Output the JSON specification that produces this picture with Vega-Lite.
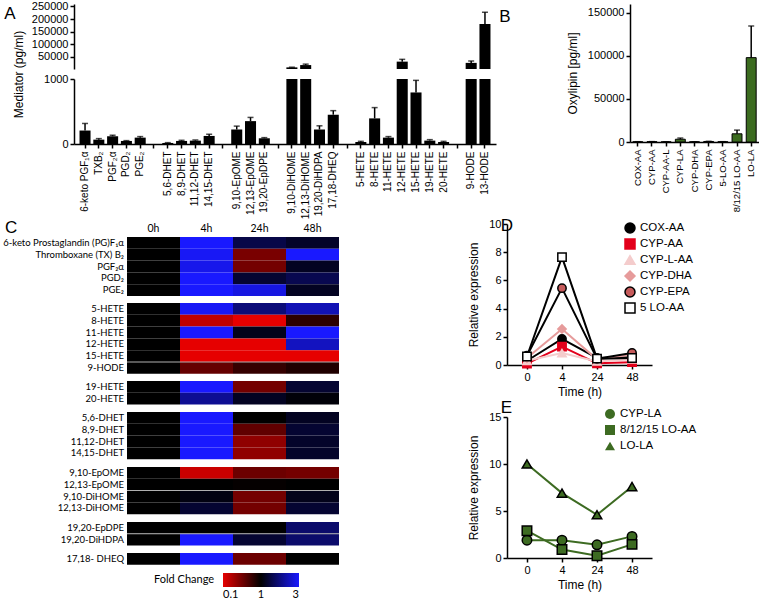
{
  "$schema": "https://vega.github.io/schema/vega-lite/v6.json",
  "padding": {"left": 3, "top": 0, "right": 0, "bottom": 0},
  "background": "white",
  "config": {
    "view": {"stroke": null},
    "font": "Liberation Sans",
    "axis": {"domainColor": "black", "tickColor": "black", "labelColor": "black", "titleColor": "black", "grid": false, "domainWidth": 1.5, "tickWidth": 1.5, "tickSize": 4, "labelFont": "Liberation Sans", "titleFont": "Liberation Sans", "labelFontSize": 11, "titleFontSize": 12, "titleFontWeight": "normal"},
    "legend": {"labelFont": "Liberation Sans", "titleFont": "Liberation Sans", "labelColor": "black", "titleColor": "black"},
    "title": {"font": "Liberation Sans", "fontSize": 17, "fontWeight": "normal", "anchor": "start", "frame": "bounds", "color": "black"}
  },
  "datasets": {
    "mediators": [
      {"m": "6-keto PGF₁α", "v": 207, "hi": 316},
      {"m": "TXB₂", "v": 67, "hi": 83},
      {"m": "PGF₂α", "v": 119, "hi": 135},
      {"m": "PGD₂", "v": 47, "hi": 52},
      {"m": "PGE₂", "v": 98, "hi": 114},
      {"m": "5,6-DHET", "v": 16, "hi": 21},
      {"m": "8,9-DHET", "v": 47, "hi": 57},
      {"m": "11,12-DHET", "v": 52, "hi": 62},
      {"m": "14,15-DHET", "v": 124, "hi": 150},
      {"m": "9,10-EpOME", "v": 223, "hi": 275},
      {"m": "12,13-EpOME", "v": 352, "hi": 409},
      {"m": "19,20-EpDPE", "v": 88, "hi": 98},
      {"m": "9,10-DiHOME", "v": 6500, "hi": 7200},
      {"m": "12,13-DiHOME", "v": 15700, "hi": 19500},
      {"m": "19,20-DiHDPA", "v": 223, "hi": 280},
      {"m": "17,18-DHEQ", "v": 451, "hi": 513},
      {"m": "5-HETE", "v": 31, "hi": 41},
      {"m": "8-HETE", "v": 394, "hi": 560},
      {"m": "11-HETE", "v": 98, "hi": 114},
      {"m": "12-HETE", "v": 29500, "hi": 38600},
      {"m": "15-HETE", "v": 793, "hi": 979},
      {"m": "19-HETE", "v": 52, "hi": 67},
      {"m": "20-HETE", "v": 31, "hi": 41},
      {"m": "9-HODE", "v": 24500, "hi": 32000},
      {"m": "13-HODE", "v": 180000, "hi": 227000}
    ],
    "oxylipin": [
      {"s": "COX-AA", "v": 250, "hi": 350},
      {"s": "CYP-AA", "v": 350, "hi": 450},
      {"s": "CYP-AA-L", "v": 150, "hi": 200},
      {"s": "CYP-LA", "v": 3200, "hi": 4600},
      {"s": "CYP-DHA", "v": 200, "hi": 260},
      {"s": "CYP-EPA", "v": 600, "hi": 800},
      {"s": "5-LO-AA", "v": 300, "hi": 380},
      {"s": "8/12/15 LO-AA", "v": 9500, "hi": 13800},
      {"s": "LO-LA", "v": 97800, "hi": 134500}
    ],
    "times": [{"t": "0h"}, {"t": "4h"}, {"t": "24h"}, {"t": "48h"}],
    "heat": [
      {"g": 1, "m": "6-keto Prostaglandin (PG)F₁α", "t": "0h", "fc": 1}, {"g": 1, "m": "6-keto Prostaglandin (PG)F₁α", "t": "4h", "fc": 3}, {"g": 1, "m": "6-keto Prostaglandin (PG)F₁α", "t": "24h", "fc": 1.45}, {"g": 1, "m": "6-keto Prostaglandin (PG)F₁α", "t": "48h", "fc": 1.25},
      {"g": 1, "m": "Thromboxane (TX) B₂", "t": "0h", "fc": 1}, {"g": 1, "m": "Thromboxane (TX) B₂", "t": "4h", "fc": 2.9}, {"g": 1, "m": "Thromboxane (TX) B₂", "t": "24h", "fc": 0.4}, {"g": 1, "m": "Thromboxane (TX) B₂", "t": "48h", "fc": 3},
      {"g": 1, "m": "PGF₂α", "t": "0h", "fc": 1}, {"g": 1, "m": "PGF₂α", "t": "4h", "fc": 2.8}, {"g": 1, "m": "PGF₂α", "t": "24h", "fc": 0.42}, {"g": 1, "m": "PGF₂α", "t": "48h", "fc": 1.2},
      {"g": 1, "m": "PGD₂", "t": "0h", "fc": 1}, {"g": 1, "m": "PGD₂", "t": "4h", "fc": 3}, {"g": 1, "m": "PGD₂", "t": "24h", "fc": 1.3}, {"g": 1, "m": "PGD₂", "t": "48h", "fc": 1.5},
      {"g": 1, "m": "PGE₂", "t": "0h", "fc": 1}, {"g": 1, "m": "PGE₂", "t": "4h", "fc": 3}, {"g": 1, "m": "PGE₂", "t": "24h", "fc": 2.7}, {"g": 1, "m": "PGE₂", "t": "48h", "fc": 1.2},
      {"g": 2, "m": "5-HETE", "t": "0h", "fc": 1}, {"g": 2, "m": "5-HETE", "t": "4h", "fc": 2.9}, {"g": 2, "m": "5-HETE", "t": "24h", "fc": 1.8}, {"g": 2, "m": "5-HETE", "t": "48h", "fc": 2.3},
      {"g": 2, "m": "8-HETE", "t": "0h", "fc": 1}, {"g": 2, "m": "8-HETE", "t": "4h", "fc": 0.18}, {"g": 2, "m": "8-HETE", "t": "24h", "fc": 0.1}, {"g": 2, "m": "8-HETE", "t": "48h", "fc": 0.75},
      {"g": 2, "m": "11-HETE", "t": "0h", "fc": 1}, {"g": 2, "m": "11-HETE", "t": "4h", "fc": 3}, {"g": 2, "m": "11-HETE", "t": "24h", "fc": 1.15}, {"g": 2, "m": "11-HETE", "t": "48h", "fc": 3},
      {"g": 2, "m": "12-HETE", "t": "0h", "fc": 1}, {"g": 2, "m": "12-HETE", "t": "4h", "fc": 0.1}, {"g": 2, "m": "12-HETE", "t": "24h", "fc": 0.1}, {"g": 2, "m": "12-HETE", "t": "48h", "fc": 2.4},
      {"g": 2, "m": "15-HETE", "t": "0h", "fc": 1}, {"g": 2, "m": "15-HETE", "t": "4h", "fc": 0.1}, {"g": 2, "m": "15-HETE", "t": "24h", "fc": 0.1}, {"g": 2, "m": "15-HETE", "t": "48h", "fc": 0.1},
      {"g": 2, "m": "9-HODE", "t": "0h", "fc": 1}, {"g": 2, "m": "9-HODE", "t": "4h", "fc": 0.48}, {"g": 2, "m": "9-HODE", "t": "24h", "fc": 0.7}, {"g": 2, "m": "9-HODE", "t": "48h", "fc": 0.82},
      {"g": 3, "m": "19-HETE", "t": "0h", "fc": 1}, {"g": 3, "m": "19-HETE", "t": "4h", "fc": 3}, {"g": 3, "m": "19-HETE", "t": "24h", "fc": 0.42}, {"g": 3, "m": "19-HETE", "t": "48h", "fc": 1.3},
      {"g": 3, "m": "20-HETE", "t": "0h", "fc": 1}, {"g": 3, "m": "20-HETE", "t": "4h", "fc": 2.0}, {"g": 3, "m": "20-HETE", "t": "24h", "fc": 1.2}, {"g": 3, "m": "20-HETE", "t": "48h", "fc": 1.05},
      {"g": 4, "m": "5,6-DHET", "t": "0h", "fc": 1}, {"g": 4, "m": "5,6-DHET", "t": "4h", "fc": 3}, {"g": 4, "m": "5,6-DHET", "t": "24h", "fc": 1.0}, {"g": 4, "m": "5,6-DHET", "t": "48h", "fc": 1.2},
      {"g": 4, "m": "8,9-DHET", "t": "0h", "fc": 1}, {"g": 4, "m": "8,9-DHET", "t": "4h", "fc": 3}, {"g": 4, "m": "8,9-DHET", "t": "24h", "fc": 0.5}, {"g": 4, "m": "8,9-DHET", "t": "48h", "fc": 1.3},
      {"g": 4, "m": "11,12-DHET", "t": "0h", "fc": 1}, {"g": 4, "m": "11,12-DHET", "t": "4h", "fc": 3}, {"g": 4, "m": "11,12-DHET", "t": "24h", "fc": 0.32}, {"g": 4, "m": "11,12-DHET", "t": "48h", "fc": 1.25},
      {"g": 4, "m": "14,15-DHET", "t": "0h", "fc": 1}, {"g": 4, "m": "14,15-DHET", "t": "4h", "fc": 3}, {"g": 4, "m": "14,15-DHET", "t": "24h", "fc": 0.32}, {"g": 4, "m": "14,15-DHET", "t": "48h", "fc": 1.25},
      {"g": 5, "m": "9,10-EpOME", "t": "0h", "fc": 1}, {"g": 5, "m": "9,10-EpOME", "t": "4h", "fc": 0.16}, {"g": 5, "m": "9,10-EpOME", "t": "24h", "fc": 0.45}, {"g": 5, "m": "9,10-EpOME", "t": "48h", "fc": 0.42},
      {"g": 5, "m": "12,13-EpOME", "t": "0h", "fc": 1}, {"g": 5, "m": "12,13-EpOME", "t": "4h", "fc": 1.0}, {"g": 5, "m": "12,13-EpOME", "t": "24h", "fc": 0.97}, {"g": 5, "m": "12,13-EpOME", "t": "48h", "fc": 1.0},
      {"g": 5, "m": "9,10-DiHOME", "t": "0h", "fc": 1}, {"g": 5, "m": "9,10-DiHOME", "t": "4h", "fc": 1.1}, {"g": 5, "m": "9,10-DiHOME", "t": "24h", "fc": 0.42}, {"g": 5, "m": "9,10-DiHOME", "t": "48h", "fc": 1.15},
      {"g": 5, "m": "12,13-DiHOME", "t": "0h", "fc": 1}, {"g": 5, "m": "12,13-DiHOME", "t": "4h", "fc": 1.3}, {"g": 5, "m": "12,13-DiHOME", "t": "24h", "fc": 0.42}, {"g": 5, "m": "12,13-DiHOME", "t": "48h", "fc": 1.3},
      {"g": 6, "m": "19,20-EpDPE", "t": "0h", "fc": 1}, {"g": 6, "m": "19,20-EpDPE", "t": "4h", "fc": 1.0}, {"g": 6, "m": "19,20-EpDPE", "t": "24h", "fc": 1.0}, {"g": 6, "m": "19,20-EpDPE", "t": "48h", "fc": 1.7},
      {"g": 6, "m": "19,20-DiHDPA", "t": "0h", "fc": 1}, {"g": 6, "m": "19,20-DiHDPA", "t": "4h", "fc": 3}, {"g": 6, "m": "19,20-DiHDPA", "t": "24h", "fc": 1.3}, {"g": 6, "m": "19,20-DiHDPA", "t": "48h", "fc": 1.7},
      {"g": 7, "m": "17,18- DHEQ", "t": "0h", "fc": 1}, {"g": 7, "m": "17,18- DHEQ", "t": "4h", "fc": 3}, {"g": 7, "m": "17,18- DHEQ", "t": "24h", "fc": 0.45}, {"g": 7, "m": "17,18- DHEQ", "t": "48h", "fc": 1.0}
    ],
    "timeD": [
      {"s": "COX-AA", "t": "0", "val": 0.3}, {"s": "COX-AA", "t": "4", "val": 1.85}, {"s": "COX-AA", "t": "24", "val": 0.5}, {"s": "COX-AA", "t": "48", "val": 0.55},
      {"s": "CYP-AA", "t": "0", "val": 0.1}, {"s": "CYP-AA", "t": "4", "val": 1.3}, {"s": "CYP-AA", "t": "24", "val": 0.12}, {"s": "CYP-AA", "t": "48", "val": 0.2},
      {"s": "CYP-L-AA", "t": "0", "val": 0.3}, {"s": "CYP-L-AA", "t": "4", "val": 0.85}, {"s": "CYP-L-AA", "t": "24", "val": 0.25}, {"s": "CYP-L-AA", "t": "48", "val": 0.4},
      {"s": "CYP-DHA", "t": "0", "val": 0.5}, {"s": "CYP-DHA", "t": "4", "val": 2.55}, {"s": "CYP-DHA", "t": "24", "val": 0.4}, {"s": "CYP-DHA", "t": "48", "val": 0.75},
      {"s": "CYP-EPA", "t": "0", "val": 0.66}, {"s": "CYP-EPA", "t": "4", "val": 5.45}, {"s": "CYP-EPA", "t": "24", "val": 0.45}, {"s": "CYP-EPA", "t": "48", "val": 0.85},
      {"s": "5 LO-AA", "t": "0", "val": 0.6}, {"s": "5 LO-AA", "t": "4", "val": 7.65}, {"s": "5 LO-AA", "t": "24", "val": 0.45}, {"s": "5 LO-AA", "t": "48", "val": 0.5}
    ],
    "timeE": [
      {"s": "CYP-LA", "t": "0", "val": 1.9}, {"s": "CYP-LA", "t": "4", "val": 1.9}, {"s": "CYP-LA", "t": "24", "val": 1.4}, {"s": "CYP-LA", "t": "48", "val": 2.3},
      {"s": "8/12/15 LO-AA", "t": "0", "val": 2.9}, {"s": "8/12/15 LO-AA", "t": "4", "val": 0.9}, {"s": "8/12/15 LO-AA", "t": "24", "val": 0.25}, {"s": "8/12/15 LO-AA", "t": "48", "val": 1.45},
      {"s": "LO-LA", "t": "0", "val": 10}, {"s": "LO-LA", "t": "4", "val": 6.9}, {"s": "LO-LA", "t": "24", "val": 4.6}, {"s": "LO-LA", "t": "48", "val": 7.6}
    ]
  },
  "spacing": -2,
  "resolve": {"scale": {"color": "independent", "fill": "independent", "stroke": "independent", "shape": "independent"}, "legend": {"color": "independent", "fill": "independent", "stroke": "independent", "shape": "independent"}},
  "vconcat": [
    {
      "spacing": 3,
      "hconcat": [
        {
          "spacing": 10,
          "bounds": "flush",
          "vconcat": [
            {
              "data": {"name": "mediators"},
              "transform": [{"filter": "datum.v > 1000"}],
              "width": 422, "height": 65,
              "title": {"text": "A", "dx": -27, "offset": -22},
              "encoding": {
                "x": {"field": "m", "type": "nominal", "scale": {"domain": ["6-keto PGF₁α", "TXB₂", "PGF₂α", "PGD₂", "PGE₂", "gap1", "5,6-DHET", "8,9-DHET", "11,12-DHET", "14,15-DHET", "gap2", "9,10-EpOME", "12,13-EpOME", "19,20-EpDPE", "gap3", "9,10-DiHOME", "12,13-DiHOME", "19,20-DiHDPA", "17,18-DHEQ", "gap4", "5-HETE", "8-HETE", "11-HETE", "12-HETE", "15-HETE", "19-HETE", "20-HETE", "gap5", "9-HODE", "13-HODE"], "paddingInner": 0.2, "paddingOuter": 0.4}, "axis": null}
              },
              "layer": [
                {"mark": {"type": "bar", "color": "black"}, "encoding": {"y": {"field": "v", "type": "quantitative", "scale": {"domain": [0, 250000]}, "axis": {"values": [50000, 100000, 150000, 200000, 250000], "format": "d", "labelOverlap": false, "title": null}}}},
                {"mark": {"type": "rule", "color": "black", "strokeWidth": 1.5}, "encoding": {"y": {"field": "v", "type": "quantitative", "axis": {"values": [50000, 100000, 150000, 200000, 250000], "format": "d", "labelOverlap": false, "title": null}}, "y2": {"field": "hi"}}},
                {"mark": {"type": "tick", "color": "black", "thickness": 1.5, "size": 6, "orient": "horizontal"}, "encoding": {"y": {"field": "hi", "type": "quantitative", "axis": {"values": [50000, 100000, 150000, 200000, 250000], "format": "d", "labelOverlap": false, "title": null}}}}
              ]
            },
            {
              "data": {"name": "mediators"},
              "width": 422, "height": 65,
              "encoding": {
                "x": {"field": "m", "type": "nominal", "scale": {"domain": ["6-keto PGF₁α", "TXB₂", "PGF₂α", "PGD₂", "PGE₂", "gap1", "5,6-DHET", "8,9-DHET", "11,12-DHET", "14,15-DHET", "gap2", "9,10-EpOME", "12,13-EpOME", "19,20-EpDPE", "gap3", "9,10-DiHOME", "12,13-DiHOME", "19,20-DiHDPA", "17,18-DHEQ", "gap4", "5-HETE", "8-HETE", "11-HETE", "12-HETE", "15-HETE", "19-HETE", "20-HETE", "gap5", "9-HODE", "13-HODE"], "paddingInner": 0.2, "paddingOuter": 0.4}, "axis": {"title": null, "labelAngle": -90, "labelFontSize": 10, "labelPadding": 3, "labelExpr": "slice(datum.value, 0, 3) == 'gap' ? '' : datum.value"}}
              },
              "layer": [
                {"mark": {"type": "bar", "color": "black", "clip": true}, "encoding": {"y": {"field": "v", "type": "quantitative", "scale": {"domain": [0, 1000]}, "axis": {"values": [0, 200, 400, 600, 800, 1000], "format": "d", "title": "Mediator (pg/ml)", "titleY": -5, "titlePadding": 18}}}},
                {"mark": {"type": "rule", "color": "black", "strokeWidth": 1.5, "clip": true}, "encoding": {"y": {"field": "v", "type": "quantitative"}, "y2": {"field": "hi"}}},
                {"mark": {"type": "tick", "color": "black", "thickness": 1.5, "size": 6, "orient": "horizontal", "clip": true}, "encoding": {"y": {"field": "hi", "type": "quantitative"}}}
              ]
            }
          ]
        },
        {
          "data": {"name": "oxylipin"},
          "width": 129, "height": 138,
          "title": {"text": "B", "dx": -67, "offset": -22},
          "encoding": {
            "x": {"field": "s", "type": "nominal", "scale": {"domain": ["COX-AA", "CYP-AA", "CYP-AA-L", "CYP-LA", "CYP-DHA", "CYP-EPA", "5-LO-AA", "8/12/15 LO-AA", "LO-LA"], "paddingInner": 0.3, "paddingOuter": 0.2}, "axis": {"title": null, "labelAngle": -90, "labelFontSize": 9.5, "labelPadding": 3}}
          },
          "layer": [
            {"mark": {"type": "bar", "fill": "#3b6b1f", "stroke": "black", "strokeWidth": 1}, "encoding": {"y": {"field": "v", "type": "quantitative", "scale": {"domain": [0, 150000]}, "axis": {"values": [0, 50000, 100000, 150000], "format": "d", "title": "Oxylipin [pg/ml]", "titlePadding": 8}}}},
            {"mark": {"type": "rule", "color": "black", "strokeWidth": 1.5}, "encoding": {"y": {"field": "v", "type": "quantitative"}, "y2": {"field": "hi"}}},
            {"mark": {"type": "tick", "color": "black", "thickness": 1.5, "size": 6, "orient": "horizontal"}, "encoding": {"y": {"field": "hi", "type": "quantitative"}}}
          ]
        }
      ]
    },
    {
      "spacing": 75,
      "resolve": {"scale": {"color": "independent", "fill": "independent", "stroke": "independent", "shape": "independent"}, "legend": {"color": "independent", "fill": "independent", "stroke": "independent", "shape": "independent"}},
      "hconcat": [
        {
          "spacing": 0,
          "vconcat": [
            {
              "data": {"name": "times"},
              "width": 318, "height": 10,
              "title": {"text": "C", "dx": -69, "offset": -13},
              "mark": {"type": "text", "font": "Lato", "fontSize": 10.5, "baseline": "middle", "color": "black"},
              "encoding": {
                "x": {"field": "t", "type": "nominal", "sort": ["0h", "4h", "24h", "48h"], "bandPosition": 0.5, "scale": {"type": "band", "paddingInner": 0, "paddingOuter": 1}, "axis": null},
                "text": {"field": "t"}
              }
            },
            {
              "data": {"name": "heat"},
              "facet": {"row": {"field": "g", "type": "ordinal", "title": null, "header": {"labels": false, "title": null}}},
              "spacing": 6,
              "resolve": {"scale": {"y": "independent"}},
              "spec": {
                "width": 318,
                "height": {"step": 11.8},
                "encoding": {
                  "x": {"field": "t", "type": "nominal", "sort": ["0h", "4h", "24h", "48h"], "scale": {"paddingInner": 0, "paddingOuter": 1}, "axis": null},
                  "y": {"field": "m", "type": "nominal", "sort": null, "axis": null}
                },
                "layer": [
                  {
                    "mark": {"type": "rect"},
                    "encoding": {
                      "color": {"field": "fc", "type": "quantitative", "scale": {"type": "pow", "exponent": 0.46, "zero": false, "nice": false, "interpolate": "rgb", "domain": [0.1, 1, 3], "range": ["#e60000", "#000000", "#1919ff"]}, "legend": {"title": "Fold Change", "orient": "none", "legendX": 80, "legendY": 349, "direction": "horizontal", "titleOrient": "left", "gradientLength": 76, "gradientThickness": 14, "values": [0.1, 1, 3], "format": "~g", "labelFont": "Lato", "labelFontSize": 11, "labelOffset": 2, "titleFont": "Lato", "titleFontSize": 11, "titleFontWeight": "normal", "titlePadding": 8}}
                    }
                  },
                  {
                    "mark": {"type": "tick", "orient": "horizontal", "color": "#b0b0b0", "size": 53, "thickness": 1},
                    "encoding": {
                      "y": {"field": "m", "type": "nominal", "sort": null, "bandPosition": 0},
                      "opacity": {"condition": {"test": "datum.m == '9-HODE' || datum.m == '9,10-DiHOME' || datum.m == '19,20-DiHDPA'", "value": 1}, "value": 0}
                    }
                  },
                  {
                    "mark": {"type": "text", "align": "right", "baseline": "middle", "dx": -3, "font": "Lato", "fontSize": 9.5, "color": "black"},
                    "encoding": {
                      "x": {"field": "t", "type": "nominal", "sort": ["0h", "4h", "24h", "48h"], "bandPosition": 0},
                      "text": {"condition": {"test": "datum.t == '0h'", "field": "m"}, "value": ""}
                    }
                  }
                ]
              }
            }
          ]
        },
        {
          "spacing": 2,
          "resolve": {"scale": {"color": "independent", "fill": "independent", "stroke": "independent", "shape": "independent"}, "legend": {"color": "independent", "fill": "independent", "stroke": "independent", "shape": "independent"}},
          "vconcat": [
            {
              "data": {"name": "timeD"},
              "width": 145, "height": 141,
              "title": {"text": "D", "dx": 33, "offset": -17},
              "encoding": {
                "x": {"field": "t", "type": "ordinal", "sort": ["0", "4", "24", "48"], "scale": {"type": "point", "padding": 0.57}, "axis": {"labelAngle": 0, "title": "Time (h)", "titlePadding": 4}},
                "y": {"field": "val", "type": "quantitative", "scale": {"domain": [0, 10]}, "axis": {"values": [0, 2, 4, 6, 8, 10], "title": "Relative expression", "titlePadding": 8}}
              },
              "layer": [
                {"mark": {"type": "line", "strokeWidth": 2}, "encoding": {"stroke": {"field": "s", "type": "nominal", "scale": {"domain": ["COX-AA", "CYP-AA", "CYP-L-AA", "CYP-DHA", "CYP-EPA", "5 LO-AA"], "range": ["#000000", "#e3001b", "#f4cccc", "#e69b9b", "#000000", "#000000"]}, "legend": {"title": null, "orient": "none", "legendX": 117, "legendY": -2, "labelFontSize": 11.5, "rowPadding": 0, "symbolStrokeWidth": 1.5}}}},
                {"mark": {"type": "point", "filled": true, "size": 70, "strokeWidth": 1.5, "opacity": 1},
                 "encoding": {
                   "stroke": {"field": "s", "type": "nominal", "legend": {"title": null, "orient": "none", "legendX": 117, "legendY": -2, "labelFontSize": 11.5, "rowPadding": 0, "symbolStrokeWidth": 1.5}},
                   "fill": {"field": "s", "type": "nominal", "scale": {"domain": ["COX-AA", "CYP-AA", "CYP-L-AA", "CYP-DHA", "CYP-EPA", "5 LO-AA"], "range": ["#000000", "#e3001b", "#f4cccc", "#e69b9b", "#c65b5b", "#ffffff"]}, "legend": {"title": null, "orient": "none", "legendX": 117, "legendY": -2, "labelFontSize": 11.5, "rowPadding": 0, "symbolStrokeWidth": 1.5}},
                   "shape": {"field": "s", "type": "nominal", "scale": {"domain": ["COX-AA", "CYP-AA", "CYP-L-AA", "CYP-DHA", "CYP-EPA", "5 LO-AA"], "range": ["circle", "square", "triangle-up", "diamond", "circle", "square"]}, "legend": {"title": null, "orient": "none", "legendX": 117, "legendY": -2, "labelFontSize": 11.5, "rowPadding": 0, "symbolStrokeWidth": 1.5}}
                 }}
              ]
            },
            {
              "data": {"name": "timeE"},
              "width": 145, "height": 141,
              "title": {"text": "E", "dx": 33, "offset": -9},
              "encoding": {
                "x": {"field": "t", "type": "ordinal", "sort": ["0", "4", "24", "48"], "scale": {"type": "point", "padding": 0.57}, "axis": {"labelAngle": 0, "title": "Time (h)", "titlePadding": 4}},
                "y": {"field": "val", "type": "quantitative", "scale": {"domain": [0, 15]}, "axis": {"values": [0, 5, 10, 15], "title": "Relative expression", "titlePadding": 8}}
              },
              "layer": [
                {"mark": {"type": "line", "strokeWidth": 2, "color": "#3d6b22"}, "encoding": {"detail": {"field": "s", "type": "nominal"}}},
                {"mark": {"type": "point", "filled": true, "size": 90, "fill": "#3d6b22", "stroke": "black", "strokeWidth": 1.5, "opacity": 1},
                 "encoding": {
                   "shape": {"field": "s", "type": "nominal", "scale": {"domain": ["CYP-LA", "8/12/15 LO-AA", "LO-LA"], "range": ["circle", "square", "triangle-up"]}, "legend": {"title": null, "orient": "none", "legendX": 97, "legendY": -9, "labelFontSize": 11.5, "rowPadding": 0, "symbolFillColor": "#3d6b22", "symbolStrokeColor": "black", "symbolStrokeWidth": 1.5}}
                 }}
              ]
            }
          ]
        }
      ]
    }
  ]
}
